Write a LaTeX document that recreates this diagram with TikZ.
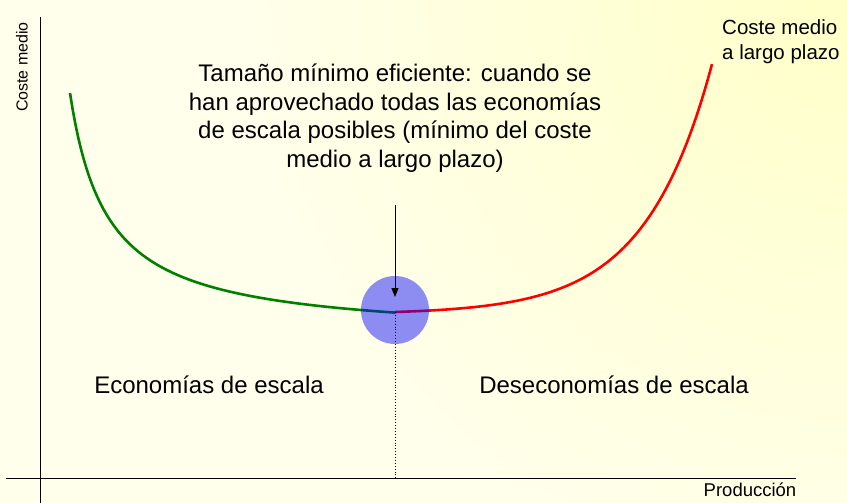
\documentclass[tikz,border=0pt]{standalone}
\usepackage{fontspec}
\setmainfont{Liberation Sans}
\usetikzlibrary{arrows.meta}
\definecolor{bgpale}{RGB}{255,255,236}
\definecolor{bgyellow}{RGB}{255,255,200}
\definecolor{curvegreen}{RGB}{0,128,0}
\definecolor{curvered}{RGB}{255,0,0}
\begin{document}
\begin{tikzpicture}[x=1pt,y=-1pt,
  axis/.style={line width=0.9pt,black},
  curve/.style={line width=2.6pt},
  label/.style={inner sep=0pt,font=\fontsize{24}{28.5}\selectfont,align=center},
  small/.style={inner sep=0pt,font=\fontsize{20.5}{25}\selectfont,align=left},
  axislabel/.style={inner sep=0pt,font=\fontsize{16}{18}\selectfont},
  prodlabel/.style={inner sep=0pt,font=\fontsize{18.5}{20}\selectfont}]
\useasboundingbox (0,0) rectangle (847,503);
% background
\fill[bgpale] (0,0) rectangle (847,503);
\begin{scope}
\clip (0,0) rectangle (847,503);
\shade[inner color=bgyellow,outer color=bgpale] (847,0) circle (620);
\end{scope}
% axes
\coordinate (ytop) at (40,17);
\coordinate (ybot) at (40,503);
\coordinate (xl) at (6,478);
\coordinate (xr) at (796,478);
\draw[axis] (ytop) -- (ybot);
\draw[axis] (xl) -- (xr);
% curve
\coordinate (cmin) at (395,312);
\draw[curve,curvegreen] plot[domain=70:395,samples=120] (\x,{337.6-9049/(\x-33)});
\draw[curve,curvered] plot[domain=395:712,samples=120] (\x,{312-2.153*(exp(0.015*(\x-395))-1)});
% circle
\node[circle,fill=blue,fill opacity=0.45,minimum size=68pt,inner sep=0pt] (circ) at (395,310) {};
% arrow and dotted line
\coordinate (arrtop) at (395,205);
\coordinate (arrtip) at (395,297);
\coordinate (dotbot) at (395,478);
\draw[-{Triangle[length=9pt,width=7pt]},line width=0.9pt] (arrtop) -- (arrtip);
\draw[dotted,line width=0.9pt] (cmin) -- (dotbot);
% texts
\node[label] (tme) at (395,118) {Tamaño mínimo eficiente: cuando se\\han aprovechado todas las economías\\de escala posibles (mínimo del coste\\medio a largo plazo)};
\node[label] (eco) at (209,385) {Economías de escala};
\node[label] (deseco) at (614,385) {Deseconomías de escala};
\node[small,anchor=west] (cml) at (722,42) {Coste medio\\a largo plazo};
\node[axislabel,rotate=90] (cm) at (22,67) {Coste medio};
\node[prodlabel] (prod) at (750,490) {Producción};
\end{tikzpicture}
\end{document}
